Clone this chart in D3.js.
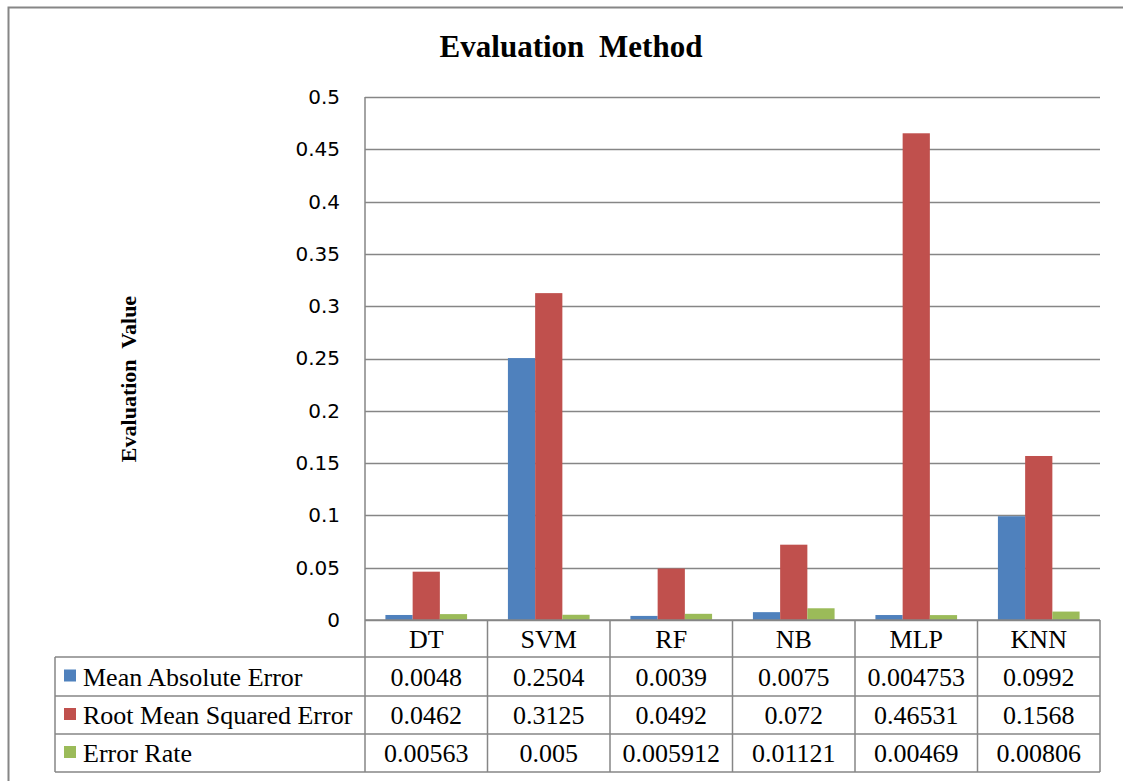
<!DOCTYPE html>
<html>
<head>
<meta charset="utf-8">
<script src="https://cdn.jsdelivr.net/npm/d3@7"></script>
<style>
  html, body { margin: 0; padding: 0; background: #fff; }
  svg { display: block; }
</style>
</head>
<body>
<svg id="chart" width="1123" height="781"></svg>
<script>
// Model categories and the three error measures
const categories = ["DT", "SVM", "RF", "NB", "MLP", "KNN"];
const seriesNames = ["Mean Absolute Error", "Root Mean Squared Error", "Error Rate"];
const maeValues  = [0.0048, 0.2504, 0.0039, 0.0075, 0.004753, 0.0992];
const rmseValues = [0.0462, 0.3125, 0.0492, 0.072, 0.46531, 0.1568];
const erValues   = [0.00563, 0.005, 0.005912, 0.01121, 0.00469, 0.00806];
const yTicks = [0, 0.05, 0.1, 0.15, 0.2, 0.25, 0.3, 0.35, 0.4, 0.45, 0.5];
const colors = ["#4F81BD", "#C0504D", "#9BBB59"];

const series = [maeValues, rmseValues, erValues];

const svg = d3.select("#chart");
const gridColor = "#868686";
const serif = "Liberation Serif, Times New Roman, serif";

const plot = { left: 365, right: 1100, top: 97, bottom: 620 };
const rowEdges = [620, 657, 696, 734, 772];
const legendLeft = 55;

// outer chart frame
svg.append("rect")
  .attr("x", 8.5).attr("y", 7.5)
  .attr("width", 1140).attr("height", 800)
  .attr("fill", "none").attr("stroke", gridColor).attr("stroke-width", 2);

// title
svg.append("text")
  .attr("x", 571).attr("y", 57)
  .attr("text-anchor", "middle")
  .attr("font-family", serif)
  .attr("font-weight", "bold")
  .attr("font-size", 31)
  .attr("word-spacing", 7)
  .text("Evaluation Method");

const x = d3.scaleBand().domain(categories).range([plot.left, plot.right]).paddingInner(0).paddingOuter(0);
const y = d3.scaleLinear().domain([0, 0.5]).range([plot.bottom, plot.top]);
const barW = x.bandwidth() / 4.5;
const inner = d3.scaleBand().domain(d3.range(3)).range([barW * 0.75, barW * 3.75]);

// horizontal gridlines
svg.append("g").selectAll("line").data(yTicks).join("line")
  .attr("x1", plot.left).attr("x2", plot.right)
  .attr("y1", d => Math.round(y(d)) + 0.5).attr("y2", d => Math.round(y(d)) + 0.5)
  .attr("stroke", gridColor).attr("stroke-width", 1.5);

// y axis tick labels
const yAxis = d3.axisLeft(y).tickValues(yTicks).tickSize(0).tickPadding(25).tickFormat(d => String(+d.toFixed(2)));
const gy = svg.append("g").attr("transform", `translate(${plot.left},0)`).call(yAxis);
gy.select(".domain").remove();
gy.selectAll("text")
  .attr("font-family", "DejaVu Sans, Verdana, sans-serif")
  .attr("font-size", 20)
  .attr("fill", "#000");

// y axis title
svg.append("text")
  .attr("transform", "translate(136,379) rotate(-90)")
  .attr("text-anchor", "middle")
  .attr("font-family", serif)
  .attr("font-weight", "bold")
  .attr("font-size", 22)
  .attr("xml:space", "preserve")
  .text("Evaluation  Value");

// bars
series.forEach((vals, si) => {
  svg.append("g").selectAll("rect").data(vals).join("rect")
    .attr("x", (d, i) => x(categories[i]) + inner(si))
    .attr("width", inner.bandwidth())
    .attr("y", d => y(d))
    .attr("height", d => y(0) - y(d))
    .attr("fill", colors[si]);
});

// data table grid
const tbl = svg.append("g").attr("stroke", gridColor).attr("stroke-width", 1.5).attr("fill", "none");
rowEdges.forEach((ry, i) => {
  tbl.append("line")
    .attr("x1", i === 0 ? plot.left : legendLeft).attr("x2", plot.right)
    .attr("y1", ry).attr("y2", ry);
});
const xEdges = categories.map(c => x(c)).concat([plot.right]);
xEdges.forEach((xv, i) => {
  tbl.append("line")
    .attr("x1", xv).attr("x2", xv)
    .attr("y1", i === 0 ? plot.top : rowEdges[0]).attr("y2", rowEdges[4]);
});
tbl.append("line")
  .attr("x1", legendLeft).attr("x2", legendLeft)
  .attr("y1", rowEdges[1]).attr("y2", rowEdges[4]);

const rowMid = i => (rowEdges[i] + rowEdges[i + 1]) / 2;
const cellFont = 26;

// category header row
svg.append("g").selectAll("text").data(categories).join("text")
  .attr("x", d => x(d) + x.bandwidth() / 2)
  .attr("y", rowMid(0) + 9)
  .attr("text-anchor", "middle")
  .attr("font-family", serif).attr("font-size", cellFont)
  .text(d => d);

// legend keys, series names and value cells
seriesNames.forEach((name, si) => {
  const cy = rowMid(si + 1);
  svg.append("rect")
    .attr("x", 64).attr("y", cy - 7)
    .attr("width", 12).attr("height", 12)
    .attr("fill", colors[si]);
  svg.append("text")
    .attr("x", 83).attr("y", cy + 9)
    .attr("font-family", serif).attr("font-size", cellFont)
    .text(name);
  svg.append("g").selectAll("text").data(series[si]).join("text")
    .attr("x", (d, i) => x(categories[i]) + x.bandwidth() / 2)
    .attr("y", cy + 9)
    .attr("text-anchor", "middle")
    .attr("font-family", serif).attr("font-size", cellFont)
    .text(d => String(d));
});
</script>
</body>
</html>
